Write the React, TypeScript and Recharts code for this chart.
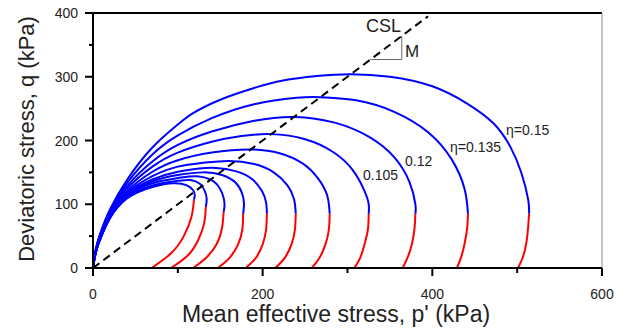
import { LineChart, Line, XAxis, YAxis, ReferenceLine } from "recharts";

type Pt = [number, number];

const FONT = "Arial, 'Liberation Sans', sans-serif";

// yield surfaces (blue), eta = 0, 0.015, ... 0.15   [p', q]
const ys1: Pt[] = [[0, 0], [2, 16], [5, 32], [10, 50], [20, 78], [40, 109], [70, 127], [95, 133], [110, 130], [118, 122], [120, 114], [119, 107]];
const ys2: Pt[] = [[0, 0], [2, 16], [5, 32], [10, 50], [20, 79], [40, 110], [70, 129.5], [100, 136.7], [115, 138], [126, 132], [132, 120], [134, 108], [133, 96]];
const ys3: Pt[] = [[0, 0], [2, 16.5], [5, 33], [10, 51], [20, 79], [40, 112], [70, 133], [100, 141], [120, 144], [138, 139], [149, 126], [154, 110], [155, 97], [154, 88]];
const ys4: Pt[] = [[0, 0], [2, 17], [5, 33], [10, 51], [20, 80], [40, 113], [70, 136], [100, 146], [130, 150], [152, 146], [168, 134], [176, 116], [178, 100], [177, 85]];
const ys5: Pt[] = [[0, 0], [2, 17], [5, 33], [10, 52], [20, 81], [40, 115], [70, 139], [100, 151], [125, 156], [145, 157], [168, 152], [187, 140], [199, 121], [204, 103], [205, 85]];
const ys6: Pt[] = [[0, 0], [2, 17], [5, 34], [10, 53], [20, 82], [40, 117], [70, 144], [100, 159], [130, 165], [160, 168], [190, 163], [213, 150], [229, 130], [237, 108], [239, 85]];
const ys7: Pt[] = [[0, 0], [2, 18], [5, 35], [10, 54], [20, 84], [40, 120], [70, 151], [100, 169], [140, 181], [185, 186], [220, 180], [247, 164], [265, 141], [276, 114], [279, 85]];
const ys8: Pt[] = [[0, 0], [2, 19], [5, 36], [10, 55], [20, 85], [40, 124], [70, 159], [100, 181], [140, 198], [175, 207], [210, 210], [250, 202], [283, 182], [306, 154], [320, 121], [325, 100], [325, 85]];
const ys9: Pt[] = [[0, 0], [2, 19], [5, 37], [10, 57], [20, 87], [40, 128], [70, 167], [100, 193], [140, 214], [190, 231], [238, 237], [285, 228], [325, 206], [355, 174], [373, 135], [380, 100], [380, 85]];
const ys10: Pt[] = [[0, 0], [2, 20], [5, 38], [10, 58], [20, 90], [40, 133], [70, 178], [100, 208], [140, 235], [190, 257], [240, 267], [268, 268], [310, 263], [355, 245], [395, 213], [423, 170], [438, 124], [442, 85]];
const ys11: Pt[] = [[0, 0], [2, 21], [5, 39], [10, 60], [20, 92], [40, 138], [70, 189], [100, 225], [118, 243], [150, 264], [189, 282], [224, 294], [264, 301], [303, 304], [350, 300], [400, 285], [441, 258], [472, 227], [492, 190], [505, 149], [513, 107], [514, 85]];

// stress paths below the surfaces (red)
const sp1: Pt[] = [[119, 107], [116, 80], [107, 50], [92, 23], [69, 0]];
const sp2: Pt[] = [[133, 96], [131, 70], [124, 44], [112, 20], [92, 0]];
const sp3: Pt[] = [[154, 88], [152, 62], [146, 38], [134, 17], [118, 0]];
const sp4: Pt[] = [[177, 85], [176, 60], [171, 37], [161, 16], [147, 0]];
const sp5: Pt[] = [[205, 85], [204, 60], [200, 37], [192, 16], [180, 0]];
const sp6: Pt[] = [[239, 85], [238, 60], [234, 37], [226, 16], [215, 0]];
const sp7: Pt[] = [[279, 85], [278, 60], [274, 37], [267, 16], [258, 0]];
const sp8: Pt[] = [[325, 85], [324, 60], [320, 37], [315, 16], [308, 0]];
const sp9: Pt[] = [[380, 85], [379, 62], [376, 38], [371, 17], [365, 0]];
const sp10: Pt[] = [[442, 85], [441, 62], [438, 38], [434, 17], [429, 0]];
const sp11: Pt[] = [[514, 85], [513, 65], [511, 41], [507, 18], [501, 0]];

const csl: Pt[] = [[0, 0], [395, 395]];
const slopeMark: Pt[] = [[327, 327], [364, 327], [364, 364]];

const xTicks = [0, 100, 200, 300, 400, 500, 600];
const yTicks = [0, 50, 100, 150, 200, 250, 300, 350, 400];

const surfaces = [ys1, ys2, ys3, ys4, ys5, ys6, ys7, ys8, ys9, ys10, ys11];
const paths = [sp1, sp2, sp3, sp4, sp5, sp6, sp7, sp8, sp9, sp10, sp11];

const toRows = (pts: Pt[]) => pts.map(([p, q]) => ({ p, q }));

function XTick(props: any) {
  const { x, y, payload } = props;
  const major = payload.value % 200 === 0;
  return (
    <g>
      <line x1={x} y1={y} x2={x} y2={y + (major ? 8 : 5)} stroke="#000" strokeWidth={2} />
      {major && (
        <text x={x} y={y + 31} textAnchor="middle" fontSize={14} fill="#222" fontFamily={FONT}>
          {payload.value}
        </text>
      )}
    </g>
  );
}

function YTick(props: any) {
  const { x, y, payload } = props;
  const major = payload.value % 100 === 0;
  return (
    <g>
      <line x1={x} y1={y} x2={x - (major ? 8 : 4)} y2={y} stroke="#000" strokeWidth={2} />
      {major && (
        <text x={x - 15} y={y + 5} textAnchor="end" fontSize={14} fill="#222" fontFamily={FONT}>
          {payload.value}
        </text>
      )}
    </g>
  );
}

export default function App() {
  return (
    <div style={{ position: "absolute", left: 0, top: 0, width: 627, height: 329, background: "#fff" }}>
      <LineChart width={627} height={329} margin={{ top: 13, right: 25, left: 0, bottom: 0 }}>
        <XAxis
          type="number"
          dataKey="p"
          domain={[0, 600]}
          ticks={xTicks}
          interval={0}
          height={61}
          tickSize={0}
          tickMargin={0}
          tickLine={false}
          tick={<XTick />}
          axisLine={{ stroke: "#000", strokeWidth: 2 }}
          allowDataOverflow
        />
        <YAxis
          type="number"
          dataKey="q"
          domain={[0, 400]}
          ticks={yTicks}
          interval={0}
          width={93}
          tickSize={0}
          tickMargin={0}
          tickLine={false}
          tick={<YTick />}
          axisLine={{ stroke: "#000", strokeWidth: 2 }}
          allowDataOverflow
        />
        <ReferenceLine y={400} stroke="#000" strokeWidth={2} />
        <ReferenceLine x={600} stroke="#888" strokeWidth={1} />
        {surfaces.map((s, i) => (
          <Line
            key={`ys-${i}`}
            data={toRows(s)}
            dataKey="q"
            type="natural"
            stroke="#0000ff"
            strokeWidth={2}
            dot={false}
            activeDot={false}
            isAnimationActive={false}
          />
        ))}
        {paths.map((s, i) => (
          <Line
            key={`sp-${i}`}
            data={toRows(s)}
            dataKey="q"
            type="natural"
            stroke="#ff0000"
            strokeWidth={2}
            dot={false}
            activeDot={false}
            isAnimationActive={false}
          />
        ))}
        <Line
          data={toRows(slopeMark)}
          dataKey="q"
          type="linear"
          stroke="#666"
          strokeWidth={1}
          dot={false}
          activeDot={false}
          isAnimationActive={false}
        />
        <Line
          data={toRows(csl)}
          dataKey="q"
          type="linear"
          stroke="#000"
          strokeWidth={2}
          strokeDasharray="8 5"
          dot={false}
          activeDot={false}
          isAnimationActive={false}
        />
      </LineChart>
      <svg width={627} height={329} style={{ position: "absolute", left: 0, top: 0, pointerEvents: "none" }}>
        <g fontFamily={FONT} fill="#222">
          <text x={336} y={322} textAnchor="middle" fontSize={23}>Mean effective stress, p' (kPa)</text>
          <text x={34} y={139} textAnchor="middle" fontSize={22} transform="rotate(-90 34 139)">
            Deviatoric stress, q (kPa)
          </text>
          <text x={366} y={31.5} fontSize={18}>CSL</text>
          <text x={405} y={57} fontSize={17}>M</text>
          <text x={506} y={135} fontSize={14}>η=0.15</text>
          <text x={450} y={151.5} fontSize={14}>η=0.135</text>
          <text x={405} y={166} fontSize={14}>0.12</text>
          <text x={363} y={179.5} fontSize={14}>0.105</text>
        </g>
      </svg>
    </div>
  );
}
